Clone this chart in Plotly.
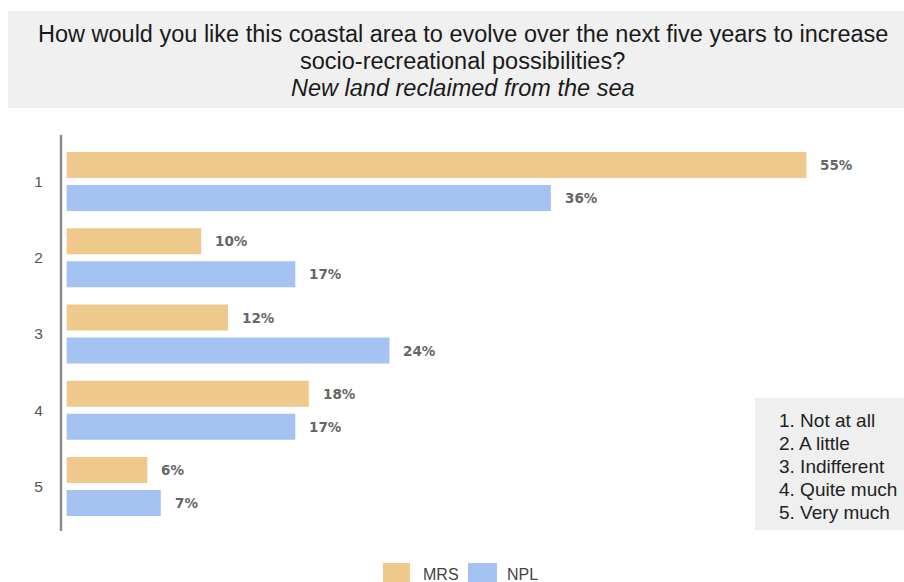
import plotly.graph_objects as go

categories = ["1", "2", "3", "4", "5"]
mrs_values = [55, 10, 12, 18, 6]
npl_values = [36, 17, 24, 17, 7]
series_names = ["MRS", "NPL"]
scale_labels = ["1. Not at all", "2. A little", "3. Indifferent", "4. Quite much", "5. Very much"]
title_lines = ["How would you like this coastal area to evolve over the next five years to increase",
               "socio-recreational possibilities?",
               "<i>New land reclaimed from the sea</i>"]

MRS_COLOR = "#EFC98B"
NPL_COLOR = "#A5C3F2"

W, H = 904, 582
L, R, T, B = 66, 0, 137, 52
pw, ph = W - L - R, H - T - B

def px(x):
    return (x - L) / pw

def py(y):
    return (H - B - y) / ph

fig = go.Figure()
for name, vals, col in [(series_names[0], mrs_values, MRS_COLOR), (series_names[1], npl_values, NPL_COLOR)]:
    fig.add_trace(go.Bar(
        y=categories, x=vals, name=name, orientation="h",
        marker=dict(color=col, line=dict(width=0)),
        showlegend=False, hoverinfo="x+y",
    ))

# value labels (y given as category index)
for vals, shift in [(mrs_values, 16.5), (npl_values, -16.5)]:
    for i, v in enumerate(vals):
        fig.add_annotation(x=v, y=i, xref="x", yref="y", text=f"{v}%", showarrow=False,
                           xanchor="left", yanchor="middle", xshift=12, yshift=shift,
                           font=dict(family="DejaVu Sans", size=13.5, color="#666666", weight="bold"))

shapes = [
    dict(type="rect", xref="paper", yref="paper", x0=px(8), x1=px(904), y0=py(108), y1=py(11),
         fillcolor="#F0F0F0", line=dict(width=0), layer="below"),
    dict(type="rect", xref="paper", yref="paper", x0=px(755), x1=px(904), y0=py(530), y1=py(398),
         fillcolor="#EFEFEF", line=dict(width=0), layer="below"),
    dict(type="line", xref="paper", yref="paper", x0=px(61), x1=px(61), y0=py(531), y1=py(135),
         line=dict(color="#8A8A8A", width=2.5)),
    dict(type="rect", xref="paper", yref="paper", x0=px(383), x1=px(410), y0=py(590), y1=py(563),
         fillcolor=MRS_COLOR, line=dict(width=0)),
    dict(type="rect", xref="paper", yref="paper", x0=px(468), x1=px(497), y0=py(590), y1=py(563),
         fillcolor=NPL_COLOR, line=dict(width=0)),
]

annotations = []
for k, t in enumerate(title_lines):
    annotations.append(dict(xref="paper", yref="paper", x=px(462.5), y=py(33.5 + 27.3 * k), showarrow=False,
                            xanchor="center", yanchor="middle", text=t,
                            font=dict(family="Liberation Sans, Arial", size=23.5, color="#1a1a1a")))
for k, t in enumerate(scale_labels):
    annotations.append(dict(xref="paper", yref="paper", x=px(777), y=py(420 + 23.2 * k), showarrow=False,
                            xanchor="left", yanchor="middle", text=t,
                            font=dict(family="Liberation Sans, Arial", size=19, color="#222222")))
annotations += [
    dict(xref="paper", yref="paper", x=px(421), y=py(574), showarrow=False, xanchor="left", yanchor="middle",
         text=series_names[0], font=dict(family="Liberation Sans, Arial", size=16, color="#444444")),
    dict(xref="paper", yref="paper", x=px(505), y=py(574), showarrow=False, xanchor="left", yanchor="middle",
         text=series_names[1], font=dict(family="Liberation Sans, Arial", size=16, color="#444444")),
]

fig.update_layout(
    width=W, height=H,
    margin=dict(l=L, r=R, t=T, b=B, pad=0),
    paper_bgcolor="white", plot_bgcolor="white",
    barmode="group", bargap=0.134, bargroupgap=0.21,
    shapes=shapes,
    showlegend=False,
    xaxis=dict(range=[-0.05, pw / 13.45 - 0.05], showgrid=False, zeroline=False, showticklabels=False,
               showline=False, fixedrange=True),
    yaxis=dict(type="category", categoryorder="array", categoryarray=categories,
               range=[4.5705, -0.5836], showgrid=False, zeroline=False,
               showline=False,
               ticks="outside", ticklen=19, tickcolor="rgba(0,0,0,0)",
               tickfont=dict(family="Liberation Sans, Arial", size=15.5, color="#555555")),
    font=dict(family="Liberation Sans, Arial"),
)
for a in annotations:
    fig.add_annotation(**a)

fig.write_html("out.html", config={"displayModeBar": False},
               post_script="document.body.style.margin='0';document.body.style.overflow='hidden';")
